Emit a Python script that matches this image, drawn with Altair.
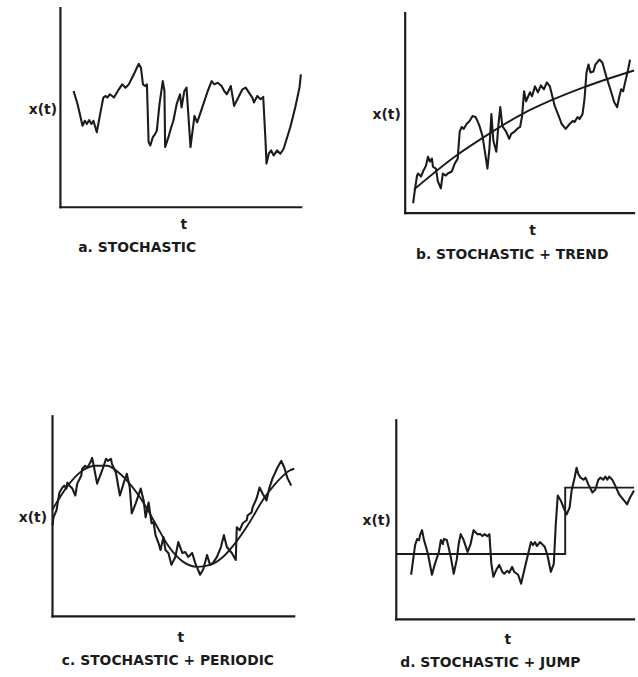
import altair as alt
import pandas as pd

# ---- a. stochastic ----
a_t = [13.3, 17.3, 22.3, 24.7, 26.7, 29, 31.3, 33.3, 36.7, 40.7, 43.3, 45.7, 47.3, 50, 54, 59, 62.3, 65.7, 69, 74,
       79, 81.3, 83.3, 85.7, 87.3, 89, 90.7, 93.3, 95.7, 97.3, 100, 103.3, 105, 105.7, 109, 111.3, 114, 117.3, 120.7, 122.3,
       125, 127.3, 131.3, 135.3, 138, 142, 148.7, 152.7, 155.3, 158.7, 162.7, 165.3, 168, 172, 175.3, 180.3, 183.7, 187, 190.3, 193.7,
       195.3, 198.7, 202, 204.7, 207, 208, 210.3, 212.7, 215.3, 218.7, 222, 225.3, 232, 237, 241.3, 242.7]
a_x = [117.3, 104, 82.3, 87.3, 84, 88, 84, 87.3, 75.7, 97.3, 110.7, 112.3, 110.7, 114, 110.7, 119, 124, 120.7, 124, 134,
       144.7, 140.7, 124, 122.3, 124, 65.7, 62.3, 70.7, 74, 77.3, 104, 127.3, 117.3, 60.7, 70.7, 79, 87.3, 104, 114, 100.7,
       117, 120.7, 60.7, 92.3, 85.7, 97.3, 117.3, 127.3, 124, 125.7, 122.3, 117.3, 114, 122.3, 102.3, 112.3, 119, 120.7, 115.7, 110.7,
       105.7, 112.3, 109, 111.3, 67.3, 44, 54, 57.3, 52.3, 57.3, 54, 59, 80.7, 100.7, 120.7, 134]

# ---- b. stochastic + trend ----
b_t = [8, 10, 12, 13, 16, 18, 21, 23, 25, 27, 28, 31, 33, 36, 38, 41, 43, 47, 50, 53,
       55, 57, 59, 62, 65, 68, 71, 73, 75, 78, 82, 83, 85, 87, 89, 92, 94, 96, 98, 102,
       105, 107, 110, 113, 116, 118, 120, 122, 126, 128, 131, 134, 137, 140, 143, 146, 148, 151, 155, 158,
       162, 166, 169, 171, 174, 176, 179, 181, 183, 185, 187, 190, 192, 196, 199, 203, 208, 211, 214, 216,
       218, 220, 222, 225, 227]
b_x = [10, 25, 38, 40, 37, 42, 48, 57, 52, 55, 47, 45, 32, 25, 40, 38, 40, 42, 50, 55,
       82, 87, 85, 90, 93, 98, 97, 93, 88, 78, 52, 45, 65, 100, 73, 62, 88, 107, 88, 82,
       75, 80, 82, 85, 87, 98, 123, 113, 122, 118, 128, 122, 129, 125, 132, 128, 120, 108, 98, 90,
       85, 90, 93, 92, 97, 95, 100, 115, 142, 150, 142, 143, 150, 155, 152, 138, 122, 112, 107, 117,
       125, 123, 132, 145, 155]
b_trend_t = [9, 50, 83, 118, 150, 180, 231]
b_trend_x = [24, 57, 79, 100, 115, 127, 144]

# ---- c. stochastic + periodic ----
c_t = [0, 1, 4, 7, 10, 12, 14, 15, 18, 20, 23, 25, 29, 30, 33, 35, 38, 40, 42, 45,
       50, 54, 56, 59, 60, 64, 68, 72, 75, 78, 80, 84, 89, 92, 94, 97, 100, 102, 104, 107,
       109, 112, 114, 117, 120, 124, 127, 131, 134, 137, 141, 144, 149, 152, 156, 159, 162, 166, 170, 173,
       176, 181, 185, 186, 189, 192, 196, 197, 201, 202, 206, 209, 212, 216, 219, 222, 227, 231, 234, 237, 241]
c_x = [92, 100, 107, 125, 130, 132, 129, 135, 131, 129, 122, 134, 142, 149, 152, 150, 155, 160, 150, 134,
       147, 159, 157, 159, 154, 145, 122, 135, 144, 130, 104, 114, 129, 117, 100, 115, 94, 95, 82, 74,
       67, 80, 67, 64, 52, 60, 75, 64, 65, 60, 64, 54, 42, 47, 62, 52, 54, 60, 70, 82,
       70, 64, 57, 90, 87, 94, 97, 102, 105, 110, 119, 130, 124, 117, 130, 139, 150, 157, 150, 140, 132]
c_wave_t = [0, 17, 30, 44, 55, 67, 77, 87, 97, 107, 117, 132, 146, 159, 172, 186, 199, 212, 226, 239, 244]
c_wave_x = [108, 134, 147, 152, 152, 145, 135, 122, 106, 88, 71, 55, 50, 52, 60, 76, 95, 117, 135, 147, 149]

# ---- d. stochastic + jump ----
d_t = [15, 17, 19, 21, 23, 24, 26, 28, 32, 36, 39, 43, 45, 47, 48, 51, 53, 55, 58, 61,
       63, 65, 68, 72, 75, 78, 82, 85, 87, 89, 92, 94, 96, 98, 101, 104, 107, 109, 112, 114,
       117, 119, 123, 126, 130, 135, 136, 138, 140, 142, 145, 147, 150, 153, 156, 159, 161, 163, 166, 170,
       172, 175, 177, 180, 182, 184, 186, 189, 191, 194, 198, 201, 204, 206, 209, 211, 213, 215, 218, 221,
       225, 229, 233, 236, 240]
d_x = [45, 60, 75, 81, 80, 85, 90, 80, 66, 45, 56, 68, 80, 76, 81, 80, 72, 63, 46, 60,
       76, 86, 80, 68, 76, 90, 86, 86, 84, 86, 84, 86, 56, 43, 50, 55, 48, 46, 49, 47,
       53, 48, 45, 36, 53, 74, 78, 75, 78, 74, 78, 76, 73, 63, 48, 56, 96, 125, 120, 110,
       106, 113, 130, 143, 153, 146, 143, 141, 143, 136, 128, 131, 141, 143, 141, 144, 141, 144, 141, 135,
       126, 121, 116, 123, 130]
d_jump_t = [0, 170.5, 240]
d_level = [66, 133, 133]

INK = "#1b1b1b"
FONT = "DejaVu Sans"


def frame(t_end, x_top):
    # the two axis lines of a panel: vertical x(t) axis and horizontal t axis
    return pd.DataFrame({"t": [0, 0], "x": [0, 0], "t2": [0, t_end], "x2": [x_top, 0]})


def panel(series, smooth, interp, t_dom, x_dom, w, h, t_end, x_top, caption, cap_dx,
          ytx, yty, ttx, tty):
    xs = alt.Scale(domain=t_dom, nice=False, zero=False)
    ys = alt.Scale(domain=x_dom, nice=False, zero=False)
    x_axis = alt.Axis(title="t", domain=False, ticks=False, labels=False, grid=False,
                      titleX=ttx, titleY=tty, titleAlign="center", titleBaseline="alphabetic",
                      titleFont=FONT, titleFontSize=14, titleFontWeight="bold", titleColor=INK)
    y_axis = alt.Axis(title="x(t)", domain=False, ticks=False, labels=False, grid=False,
                      titleAngle=0, titleX=ytx, titleY=yty, titleAlign="right", titleBaseline="middle",
                      titleFont=FONT, titleFontSize=14, titleFontWeight="bold", titleColor=INK)
    enc = dict(x=alt.X("t:Q", scale=xs, axis=x_axis), y=alt.Y("x:Q", scale=ys, axis=y_axis))

    layers = [
        alt.Chart(frame(t_end, x_top)).mark_rule(color=INK, strokeWidth=2.2, strokeCap="square")
        .encode(x2="t2:Q", y2="x2:Q", **enc),
        alt.Chart(series).mark_line(color=INK, strokeWidth=2.1, strokeJoin="round").encode(**enc),
    ]
    if smooth is not None:
        layers.append(alt.Chart(smooth).mark_line(color=INK, strokeWidth=1.9, interpolate=interp).encode(**enc))

    return alt.layer(*layers).properties(
        width=w, height=h,
        title=alt.TitleParams(caption, orient="bottom", anchor="middle", frame="group", dx=cap_dx,
                              offset=10, font=FONT, fontSize=14, fontWeight="bold", color=INK),
    )


pa = panel(pd.DataFrame({"t": a_t, "x": a_x}), None, None,
           [-8, 243], [-6, 201], 251, 207, 243, 201, "a. STOCHASTIC", -40, 4, 102, 132, 15)
pb = panel(pd.DataFrame({"t": b_t, "x": b_x}), pd.DataFrame({"t": b_trend_t, "x": b_trend_x}), "monotone",
           [-9, 231], [0, 207], 240, 207, 231, 202, "b. STOCHASTIC + TREND", -3, 4, 107, 137, 22)
pc = panel(pd.DataFrame({"t": c_t, "x": c_x}), pd.DataFrame({"t": c_wave_t, "x": c_wave_x}), "monotone",
           [0, 251], [-6, 202], 251, 208, 244, 202, "c. STOCHASTIC + PERIODIC", -9, -6, 102, 129, 19)
pd_ = panel(pd.DataFrame({"t": d_t, "x": d_x}), pd.DataFrame({"t": d_jump_t, "x": d_level}), "step-after",
            [0, 240], [0, 208], 240, 208, 240, 201, "d. STOCHASTIC + JUMP", -25, -6, 108, 112, 24)

chart = alt.hconcat(
    alt.vconcat(pa, pc, spacing=161),
    alt.vconcat(pb, pd_, spacing=153),
    spacing=59,
).properties(
    padding={"left": 18, "top": 3, "right": 0, "bottom": 0},
    background="white",
).configure_view(stroke=None)

chart.save("out.html", embed_options={"renderer": "svg", "actions": False})
